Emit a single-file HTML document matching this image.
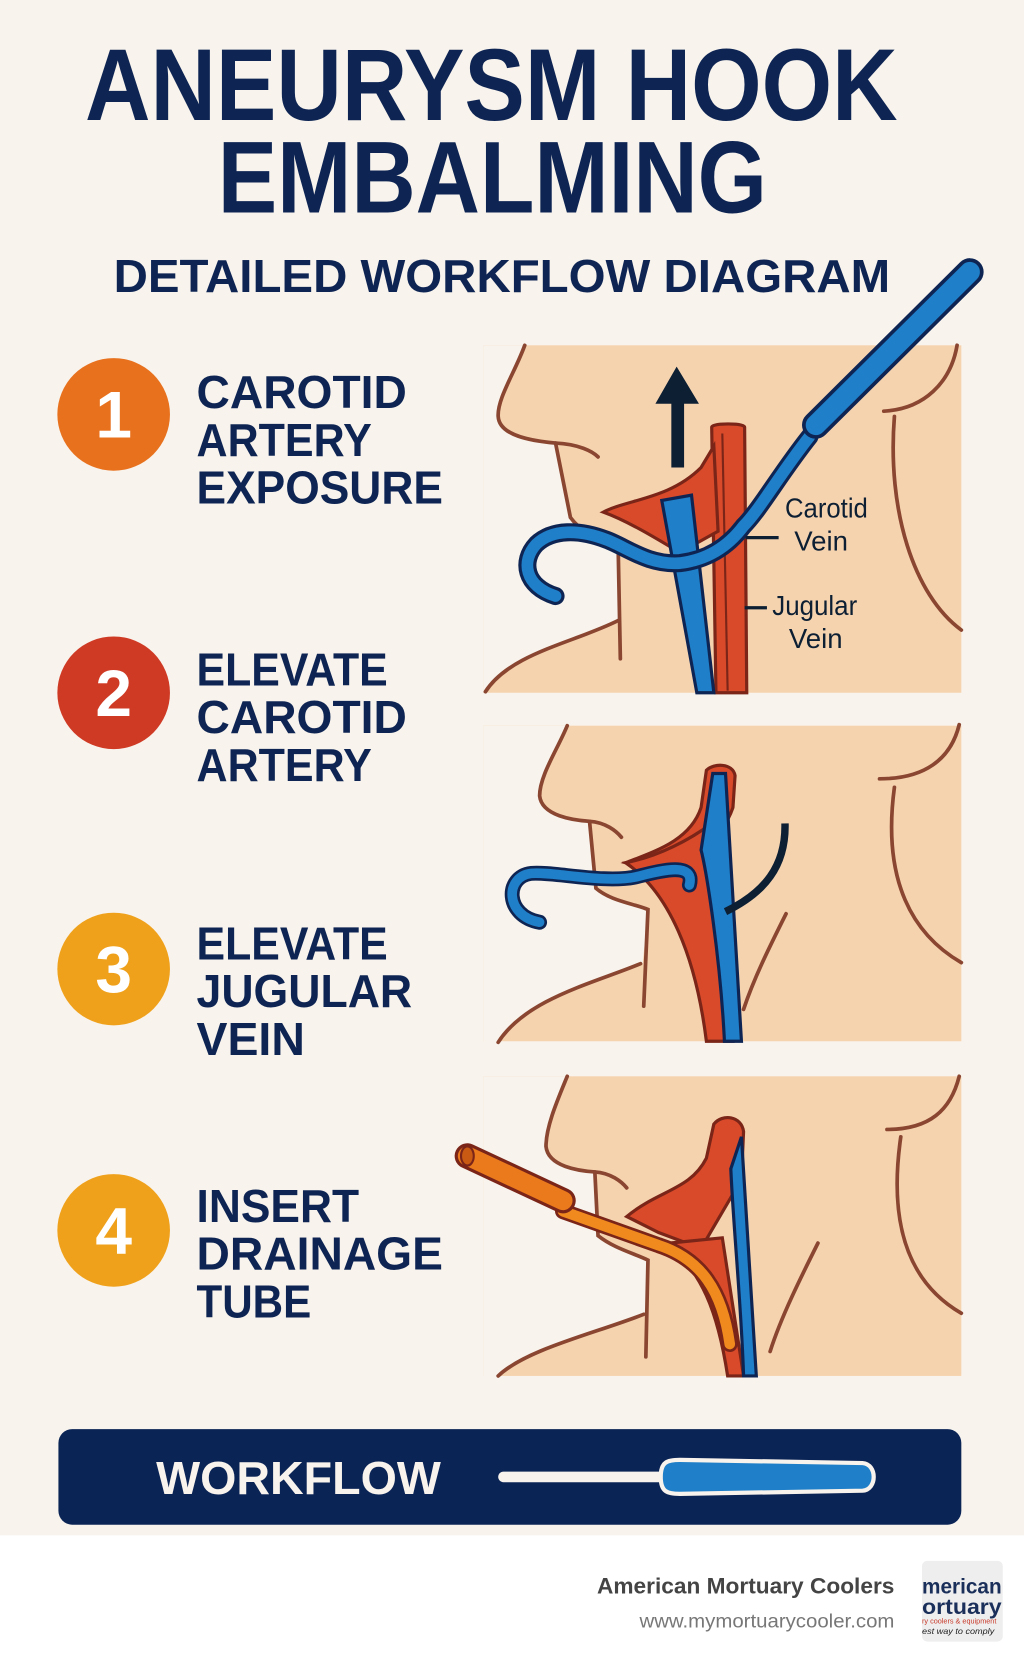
<!DOCTYPE html>
<html><head><meta charset="utf-8"><style>
html,body{margin:0;padding:0;background:#f8f3ec;}
svg{display:block}
</style></head><body>
<svg width="1024" height="1666" viewBox="0 0 964 1568" preserveAspectRatio="none" xmlns="http://www.w3.org/2000/svg" font-family="Liberation Sans, sans-serif">
<rect width="964" height="1568" fill="#f8f3ec"/>
<rect y="1445" width="964" height="123" fill="#ffffff"/>
<!-- title -->
<g fill="#0e2554" font-weight="bold">
<text x="80" y="113" font-size="96" textLength="765" lengthAdjust="spacingAndGlyphs">ANEURYSM HOOK</text>
<text x="205" y="200" font-size="96" textLength="517" lengthAdjust="spacingAndGlyphs">EMBALMING</text>
<text x="107" y="275" font-size="44" textLength="731" lengthAdjust="spacingAndGlyphs">DETAILED WORKFLOW DIAGRAM</text>
</g>
<!-- circles -->
<g font-weight="bold" font-size="62" fill="#fff" text-anchor="middle">
<circle cx="107" cy="390" r="53" fill="#e8711e"/><text x="107" y="412">1</text>
<circle cx="107" cy="652" r="53" fill="#cf3a25"/><text x="107" y="674">2</text>
<circle cx="107" cy="912" r="53" fill="#efa11b"/><text x="107" y="934">3</text>
<circle cx="107" cy="1158" r="53" fill="#efa11b"/><text x="107" y="1180">4</text>
</g>
<g fill="#0e2554" font-weight="bold" font-size="44" lengthAdjust="spacingAndGlyphs">
<text x="185" y="384" textLength="198" lengthAdjust="spacingAndGlyphs">CAROTID</text>
<text x="185" y="429" textLength="165" lengthAdjust="spacingAndGlyphs">ARTERY</text>
<text x="185" y="474" textLength="232" lengthAdjust="spacingAndGlyphs">EXPOSURE</text>
<text x="185" y="645" textLength="180" lengthAdjust="spacingAndGlyphs">ELEVATE</text>
<text x="185" y="690" textLength="198" lengthAdjust="spacingAndGlyphs">CAROTID</text>
<text x="185" y="735" textLength="165" lengthAdjust="spacingAndGlyphs">ARTERY</text>
<text x="185" y="903" textLength="180" lengthAdjust="spacingAndGlyphs">ELEVATE</text>
<text x="185" y="948" textLength="203" lengthAdjust="spacingAndGlyphs">JUGULAR</text>
<text x="185" y="993" textLength="102" lengthAdjust="spacingAndGlyphs">VEIN</text>
<text x="185" y="1150" textLength="153" lengthAdjust="spacingAndGlyphs">INSERT</text>
<text x="185" y="1195" textLength="232" lengthAdjust="spacingAndGlyphs">DRAINAGE</text>
<text x="185" y="1240" textLength="108" lengthAdjust="spacingAndGlyphs">TUBE</text>
</g>

<!-- PANEL 1 -->
<g>
<rect x="455" y="325" width="450" height="327" fill="#f6d3af"/>
<path d="M455,325 L494,325 C485,350 468,375 469,392 C470,410 500,415 523,417 L537,487 C550,505 575,512 582,518 L582,584 C540,605 480,615 457,651 L455,652 Z" fill="#f8f3ec"/>
<g fill="none" stroke="#8a4631" stroke-width="3.5" stroke-linecap="round">
<path d="M494,325 C485,350 468,375 469,392 C470,410 500,415 523,417 C545,418 558,425 563,430"/>
<path d="M523,417 L537,487 C550,505 575,512 582,518 L584,620"/>
<path d="M582,584 C540,605 480,615 457,651"/>
<path d="M901,325 C895,360 870,385 832,387"/>
<path d="M842,392 C835,480 860,560 905,593"/>
</g>
<path d="M670,402 C670,398 701,398 701,402 L703,652 L674,652 Z" fill="#d84a2a" stroke="#7a2518" stroke-width="3"/>
<path d="M680,408 L685,650" stroke="#7a2518" stroke-width="2" fill="none"/>
<path d="M568,482 C590,470 630,470 660,440 L672,420 L676,500 L640,520 C615,505 590,490 568,482 Z" fill="#d84a2a" stroke="#7a2518" stroke-width="3"/>
<path d="M623,471 L651,466 L672,652 L656,652 Z" fill="#1f7fc8" stroke="#0e2554" stroke-width="3"/>
<!-- arrow -->
<path d="M632,440 L632,380 L617,380 L637,345 L658,380 L644,380 L644,440 Z" fill="#0c1f33"/>
<!-- hook -->
<path d="M762,411 C735,445 715,480 700,495 C685,515 665,527 640,530 C610,532 590,515 571,508 C545,498 520,498 505,512 C490,528 494,552 523,561" fill="none" stroke="#0e2554" stroke-width="17" stroke-linecap="round"/>
<path d="M762,411 C735,445 715,480 700,495 C685,515 665,527 640,530 C610,532 590,515 571,508 C545,498 520,498 505,512 C490,528 494,552 523,561" fill="none" stroke="#1f7fc8" stroke-width="11" stroke-linecap="round"/>
<path d="M913,256 L768,400" stroke="#0e2554" stroke-width="26" stroke-linecap="round"/>
<path d="M913,256 L768,400" stroke="#1f7fc8" stroke-width="19" stroke-linecap="round"/>
<g stroke="#0c1f33" stroke-width="3"><path d="M702,506 L733,506"/><path d="M701,572 L722,572"/></g>
<g fill="#0c1f33" font-size="26" text-anchor="middle">
<text x="778" y="487" textLength="78" lengthAdjust="spacingAndGlyphs">Carotid</text>
<text x="773" y="518">Vein</text>
<text x="767" y="579" textLength="80" lengthAdjust="spacingAndGlyphs">Jugular</text>
<text x="768" y="610">Vein</text>
</g>
</g>

<!-- PANEL 2 -->
<g id="p2">
<rect x="455" y="683" width="450" height="297" fill="#f6d3af"/>
<path d="M455,683 L534,683 C525,705 508,730 508,749 C510,768 540,772 555,773 L561,836 C575,848 595,850 610,856 L605,907 C560,925 495,940 469,981 L455,981 Z" fill="#f8f3ec"/>
<g fill="none" stroke="#8a4631" stroke-width="3.5" stroke-linecap="round">
<path d="M534,683 C525,705 508,730 508,749 C510,768 540,772 555,773 C570,774 580,782 585,788"/>
<path d="M555,773 L561,836 C575,848 595,850 610,856 L606,947"/>
<path d="M603,907 C560,925 495,940 469,981"/>
<path d="M903,682 C895,715 870,733 828,733"/>
<path d="M842,741 C830,830 860,880 905,906"/>
<path d="M740,860 C725,890 710,920 700,950"/>
</g>
<path d="M665,725 C672,718 690,718 692,730 L690,760 C680,790 650,810 612,818 L589,812 C620,800 650,790 660,760 Z" fill="#d84a2a" stroke="#7a2518" stroke-width="3"/>
<path d="M589,812 C620,806 650,790 670,775 L680,860 L690,980 L665,980 C655,900 630,840 589,812 Z" fill="#d84a2a" stroke="#7a2518" stroke-width="3"/>
<path d="M671,728 L683,728 L698,980 L682,980 C678,900 665,820 660,800 Z" fill="#1f7fc8" stroke="#0e2554" stroke-width="3"/>
<path d="M649,833 C655,810 620,820 600,825 C570,832 520,820 500,822 C475,825 475,862 508,868" fill="none" stroke="#0e2554" stroke-width="14" stroke-linecap="round"/>
<path d="M649,833 C655,810 620,820 600,825 C570,832 520,820 500,822 C475,825 475,862 508,868" fill="none" stroke="#1f7fc8" stroke-width="9" stroke-linecap="round"/>
<path d="M739,775 C740,815 720,840 683,858" fill="none" stroke="#0c1f33" stroke-width="7"/>
</g>

<!-- PANEL 3 -->
<g>
<rect x="455" y="1013" width="450" height="282" fill="#f6d3af"/>
<path d="M455,1013 L534,1013 C525,1035 514,1060 514,1079 C516,1098 545,1102 560,1103 L563,1163 C578,1175 598,1180 610,1186 L608,1237 C560,1255 495,1270 469,1295 L455,1295 Z" fill="#f8f3ec"/>
<g fill="none" stroke="#8a4631" stroke-width="3.5" stroke-linecap="round">
<path d="M534,1013 C525,1035 514,1060 514,1079 C516,1098 545,1102 560,1103 C575,1104 585,1112 590,1118"/>
<path d="M560,1103 L563,1163 C578,1175 598,1180 610,1186 L608,1277"/>
<path d="M606,1237 C560,1255 495,1270 469,1295"/>
<path d="M903,1013 C895,1045 875,1063 835,1063"/>
<path d="M848,1070 C835,1160 860,1210 905,1236"/>
<path d="M770,1170 C755,1200 735,1240 725,1272"/>
</g>
<path d="M672,1058 C680,1048 698,1050 700,1065 L698,1110 L660,1175 L620,1160 L590,1145 C620,1120 650,1120 665,1090 Z" fill="#d84a2a" stroke="#7a2518" stroke-width="3"/>
<path d="M630,1170 L680,1165 L700,1295 L685,1295 C675,1230 660,1200 630,1170 Z" fill="#d84a2a" stroke="#7a2518" stroke-width="3"/>
<path d="M688,1100 L698,1070 L712,1295 L700,1295 C698,1230 690,1150 688,1100 Z" fill="#1f7fc8" stroke="#0e2554" stroke-width="3"/>
<path d="M530,1140 L620,1172 C660,1185 680,1215 687,1265" fill="none" stroke="#7a2518" stroke-width="15" stroke-linecap="round"/>
<path d="M530,1140 L620,1172 C660,1185 680,1215 687,1265" fill="none" stroke="#f08a1e" stroke-width="10" stroke-linecap="round"/>
<path d="M440,1088 L530,1130" stroke="#7a2518" stroke-width="24" stroke-linecap="round"/>
<path d="M440,1088 L530,1130" stroke="#ea7a1c" stroke-width="18" stroke-linecap="round"/>
<ellipse cx="440" cy="1088" rx="6" ry="9" fill="#c85a14" stroke="#7a2518" stroke-width="2"/>
</g>

<!-- bar -->
<rect x="55" y="1345" width="850" height="90" rx="13" fill="#0b2456"/>
<text x="147" y="1406" font-size="44" font-weight="bold" fill="#f8f3ec" textLength="268" lengthAdjust="spacingAndGlyphs">WORKFLOW</text>
<path d="M474,1390 L620,1390" stroke="#f8f3ec" stroke-width="10" stroke-linecap="round"/>
<path d="M622,1390 C622,1376 628,1374 640,1374 L812,1377 C826,1378 826,1402 812,1403 L640,1406 C628,1406 622,1404 622,1390 Z" fill="#1f7fc8" stroke="#f8f3ec" stroke-width="4"/>
<!-- footer -->
<text x="842" y="1500" font-size="21" font-weight="bold" fill="#444" text-anchor="end" textLength="280" lengthAdjust="spacingAndGlyphs">American Mortuary Coolers</text>
<text x="842" y="1532" font-size="18" fill="#777" text-anchor="end" textLength="240" lengthAdjust="spacingAndGlyphs">www.mymortuarycooler.com</text>
<rect x="868" y="1469" width="76" height="76" rx="5" fill="#eeeeee"/>
<text x="868" y="1500" font-size="20" font-weight="bold" fill="#1a2f5a" textLength="75" lengthAdjust="spacingAndGlyphs">merican</text>
<text x="868" y="1519" font-size="20" font-weight="bold" fill="#1a2f5a" textLength="75" lengthAdjust="spacingAndGlyphs">ortuary</text>
<text x="868" y="1528" font-size="7" fill="#c83a2a" textLength="70" lengthAdjust="spacingAndGlyphs">ry coolers &amp; equipment</text>
<text x="868" y="1538" font-size="8" font-style="italic" fill="#222" textLength="68" lengthAdjust="spacingAndGlyphs">est way to comply</text>
</svg>
</body></html>
